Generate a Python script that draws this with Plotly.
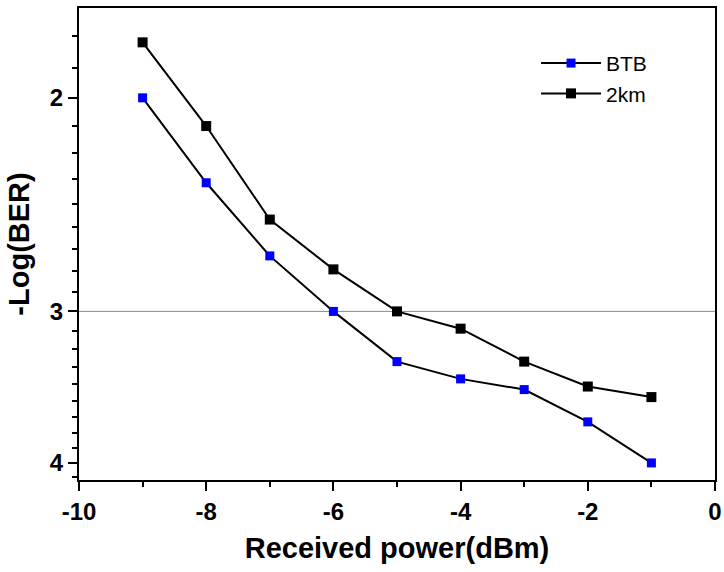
import plotly.graph_objects as go

# Received optical power (dBm)
power = [-9, -8, -7, -6, -5, -4, -3, -2, -1]

# -Log(BER) per configuration
btb = [2.0, 2.35, 2.70, 3.0, 3.30, 3.41, 3.48, 3.70, 4.0]
km2 = [1.80, 2.11, 2.52, 2.77, 3.0, 3.10, 3.30, 3.46, 3.53]

# FEC threshold reference level
threshold = 3.0

x_ticks = [-10, -8, -6, -4, -2, 0]
x_labels = ["-10", "-8", "-6", "-4", "-2", "0"]
x_minor = [-9, -7, -5, -3, -1]
y_ticks = [2, 3, 4]
y_labels = ["2", "3", "4"]
y_minor = [m + k / 9 for m in (1, 2, 3, 4) for k in range(1, 9)]

FONT = "Liberation Sans, Arial, sans-serif"

fig = go.Figure()

fig.add_trace(go.Scatter(
    x=[x_ticks[0], x_ticks[-1]], y=[threshold, threshold],
    mode="lines", line=dict(color="#8a8a8a", width=1),
    showlegend=False, hoverinfo="skip", cliponaxis=True,
))

fig.add_trace(go.Scatter(
    x=power, y=btb, name="BTB", mode="lines+markers",
    line=dict(color="black", width=2),
    marker=dict(symbol="square", size=9, color="#0000ff"),
))

fig.add_trace(go.Scatter(
    x=power, y=km2, name="2km", mode="lines+markers",
    line=dict(color="black", width=2),
    marker=dict(symbol="square", size=10, color="black"),
))

fig.update_layout(
    width=724, height=572,
    margin=dict(l=79, r=9, t=8, b=92, autoexpand=False),
    paper_bgcolor="white", plot_bgcolor="white",
    font=dict(family=FONT, color="black"),
    legend=dict(
        x=0.7186, y=0.926, xanchor="left", yanchor="top",
        bgcolor="rgba(0,0,0,0)", font=dict(size=21, family=FONT),
        tracegroupgap=0, itemwidth=60,
    ),
)

fig.update_xaxes(
    range=[-10, 0], tickvals=x_ticks, ticktext=[f"<b>{t}</b>" for t in x_labels],
    ticks="outside", ticklen=9, tickwidth=2, tickcolor="black",
    minor=dict(tickvals=x_minor, ticks="outside", ticklen=5, tickwidth=2, tickcolor="black"),
    showline=True, linewidth=2, linecolor="black", mirror=True,
    showgrid=False, zeroline=False, automargin=False,
    tickfont=dict(size=24, family=FONT),
    title=dict(text="<b>Received power(dBm)</b>", font=dict(size=29, family=FONT), standoff=14),
)

fig.update_yaxes(
    type="log", autorange=False,
    range=[0.61614, 0.22696],
    tickvals=y_ticks, ticktext=[f"<b>{t}</b>" for t in y_labels],
    ticks="outside", ticklen=9, tickwidth=2, tickcolor="black",
    minor=dict(tickvals=y_minor, ticks="outside", ticklen=5, tickwidth=2, tickcolor="black"),
    showline=True, linewidth=2, linecolor="black", mirror=True,
    showgrid=False, zeroline=False, automargin=False,
    tickfont=dict(size=24, family=FONT),
    title=dict(text="<b>-Log(BER)</b>", font=dict(size=29, family=FONT), standoff=12),
)

fig.write_html("out.html")
